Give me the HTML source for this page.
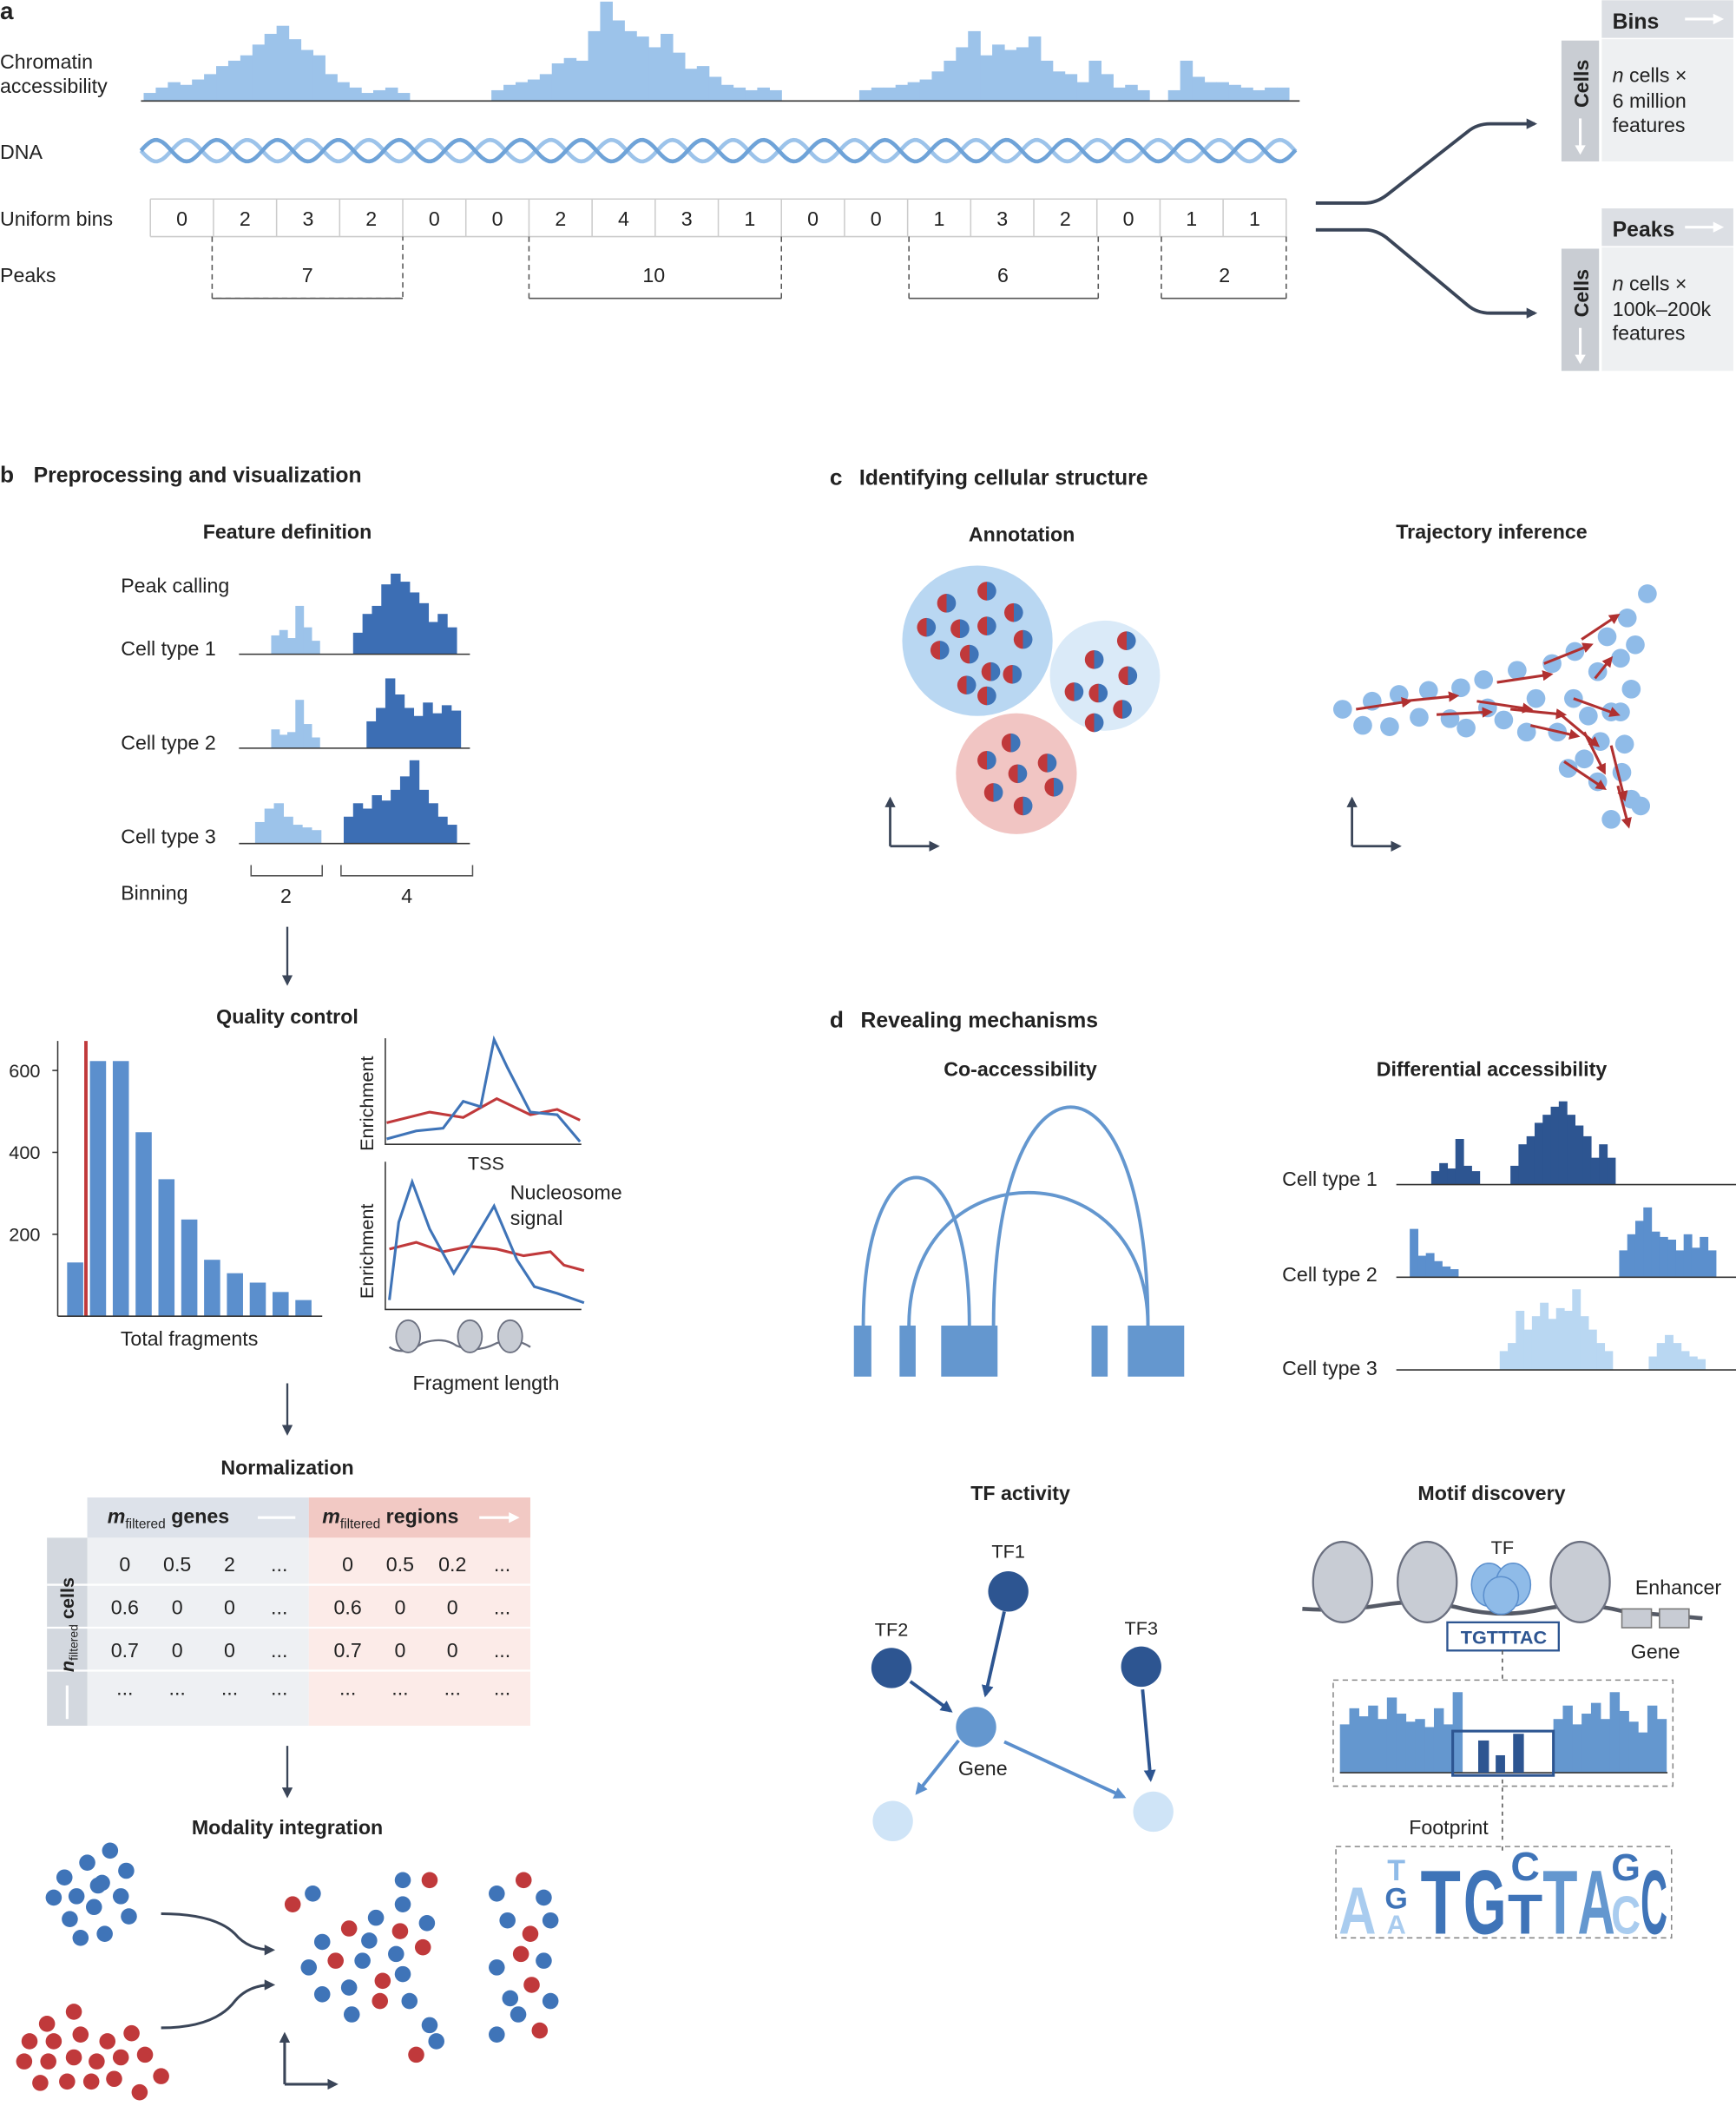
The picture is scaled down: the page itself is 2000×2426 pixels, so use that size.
<!DOCTYPE html>
<html><head><meta charset="utf-8"><style>
html,body{margin:0;padding:0;background:#fff}
svg{display:block}
text{font-family:"Liberation Sans",sans-serif;fill:#222}
.b{font-weight:bold}
</style></head><body>
<svg id="s" xmlns="http://www.w3.org/2000/svg" width="2000" height="2426" viewBox="0 0 1293 1568">
<rect width="1293" height="1568" fill="#fff"/>
<defs>
<marker id="ah" markerWidth="8" markerHeight="8" refX="6" refY="4" orient="auto" markerUnits="userSpaceOnUse"><path d="M0,0 L8,4 L0,8 Z" fill="#3a4558"/></marker>
<marker id="aw" markerWidth="8" markerHeight="8" refX="6" refY="4" orient="auto" markerUnits="userSpaceOnUse"><path d="M0,0 L8,4 L0,8 Z" fill="#fff"/></marker>
<marker id="ar" markerWidth="8" markerHeight="8" refX="6" refY="4" orient="auto" markerUnits="userSpaceOnUse"><path d="M0,0 L8,4 L0,8 Z" fill="#b03030"/></marker>
<marker id="ab" markerWidth="9" markerHeight="9" refX="7" refY="4.5" orient="auto" markerUnits="userSpaceOnUse"><path d="M0,0 L9,4.5 L0,9 Z" fill="#2d5591"/></marker>
<marker id="al" markerWidth="9" markerHeight="9" refX="7" refY="4.5" orient="auto" markerUnits="userSpaceOnUse"><path d="M0,0 L9,4.5 L0,9 Z" fill="#5b8fcd"/></marker>
<linearGradient id="hd" x1="0" x2="1"><stop offset="0.5" stop-color="#c0393b"/><stop offset="0.5" stop-color="#3f74b8"/></linearGradient>
</defs>

<!-- PANEL A -->
<text x="0" y="14" class="b" font-size="18">a</text>
<text x="0" y="51" font-size="15">Chromatin</text>
<text x="0" y="69" font-size="15">accessibility</text>
<g id="ahist" fill="#9cc3ea"></g>
<line x1="105" y1="75" x2="968" y2="75" stroke="#333" stroke-width="1"/>
<text x="0" y="118" font-size="15">DNA</text>
<path id="h1" fill="none" stroke="#9cc3ea" stroke-width="3"/>
<path id="h2" fill="none" stroke="#6fa3d8" stroke-width="3"/>
<text x="0" y="168" font-size="15">Uniform bins</text>
<g id="bins"></g>
<text x="0" y="210" font-size="15">Peaks</text>
<g stroke="#555" stroke-width="1" fill="none">
<path d="M158,176V222H300V176" stroke-dasharray="4,3"/><path d="M158,222H300"/>
<path d="M394,176V222M582,176V222" stroke-dasharray="4,3"/><path d="M394,222H582"/>
<path d="M677,176V222M818,176V222" stroke-dasharray="4,3"/><path d="M677,222H818"/>
<path d="M865,176V222M958,176V222" stroke-dasharray="4,3"/><path d="M865,222H958"/>
</g>
<g font-size="15" text-anchor="middle"><text x="229" y="210">7</text><text x="487" y="210">10</text><text x="747" y="210">6</text><text x="912" y="210">2</text></g>
<g fill="none" stroke="#3a4558" stroke-width="2.5">
<path d="M980,151 H1017 Q1025,151 1033,145 L1093,98 Q1100,92 1110,92 H1143" marker-end="url(#ah)"/>
<path d="M980,171 H1017 Q1025,171 1033,177 L1093,227 Q1100,233 1110,233 H1143" marker-end="url(#ah)"/>
</g>
<g>
<rect x="1193" y="0" width="98" height="28" fill="#dcdfe4"/>
<rect x="1163" y="30" width="28" height="90" fill="#c9cdd3"/>
<rect x="1193" y="29" width="98" height="91" fill="#eef0f2"/>
<text x="1201" y="21" class="b" font-size="16">Bins</text>
<path d="M1255,14H1282" stroke="#fff" stroke-width="2" marker-end="url(#aw)"/>
<text transform="translate(1183,80) rotate(-90)" class="b" font-size="15">Cells</text>
<path d="M1177,88V112" stroke="#fff" stroke-width="2"/><path d="M1173,108L1177,115L1181,108" fill="#fff"/>
<text x="1201" y="61" font-size="15"><tspan font-style="italic">n</tspan> cells ×</text>
<text x="1201" y="80" font-size="15">6 million</text>
<text x="1201" y="98" font-size="15">features</text>

<rect x="1193" y="155" width="98" height="28" fill="#dcdfe4"/>
<rect x="1163" y="185" width="28" height="91" fill="#c9cdd3"/>
<rect x="1193" y="184" width="98" height="92" fill="#eef0f2"/>
<text x="1201" y="176" class="b" font-size="16">Peaks</text>
<path d="M1255,169H1282" stroke="#fff" stroke-width="2" marker-end="url(#aw)"/>
<text transform="translate(1183,236) rotate(-90)" class="b" font-size="15">Cells</text>
<path d="M1177,244V268" stroke="#fff" stroke-width="2"/><path d="M1173,264L1177,271L1181,264" fill="#fff"/>
<text x="1201" y="216" font-size="15"><tspan font-style="italic">n</tspan> cells ×</text>
<text x="1201" y="235" font-size="15">100k–200k</text>
<text x="1201" y="253" font-size="15">features</text>
</g>

<!-- PANEL B -->
<text x="0" y="359" class="b" font-size="17">b</text>
<text x="25" y="359" class="b" font-size="16">Preprocessing and visualization</text>
<text x="214" y="401" class="b" font-size="15" text-anchor="middle">Feature definition</text>
<text x="90" y="441" font-size="15">Peak calling</text>
<text x="90" y="488" font-size="15">Cell type 1</text>
<text x="90" y="558" font-size="15">Cell type 2</text>
<text x="90" y="628" font-size="15">Cell type 3</text>
<g id="fd"></g>
<g stroke="#333" stroke-width="1"><line x1="178" y1="487" x2="350" y2="487"/><line x1="178" y1="557" x2="350" y2="557"/><line x1="178" y1="628" x2="350" y2="628"/></g>
<text x="90" y="670" font-size="15">Binning</text>
<g stroke="#555" fill="none"><path d="M187,644V652H240V644M254,644V652H352V644"/></g>
<text x="213" y="672" font-size="15" text-anchor="middle">2</text><text x="303" y="672" font-size="15" text-anchor="middle">4</text>
<g stroke="#3a4558" stroke-width="1.5" fill="none">
<path d="M214,690V732" marker-end="url(#ah)"/><path d="M214,1030V1067" marker-end="url(#ah)"/>
<path d="M214,1300V1337" marker-end="url(#ah)"/></g>
<text x="214" y="762" class="b" font-size="15" text-anchor="middle">Quality control</text>
<g id="qc" fill="#5b8fcd"></g>
<line x1="64" y1="775" x2="64" y2="980" stroke="#c0393b" stroke-width="2.5"/>
<g stroke="#333"><line x1="43" y1="775" x2="43" y2="980"/><line x1="43" y1="980" x2="240" y2="980"/>
<line x1="39" y1="797" x2="43" y2="797"/><line x1="39" y1="858" x2="43" y2="858"/><line x1="39" y1="919" x2="43" y2="919"/></g>
<g font-size="14" text-anchor="end"><text x="30" y="802">600</text><text x="30" y="863">400</text><text x="30" y="924">200</text></g>
<text x="141" y="1002" font-size="15" text-anchor="middle">Total fragments</text>
<g stroke="#333"><path d="M287,773V852H433" fill="none"/><path d="M287,865V975H433" fill="none"/></g>
<text transform="translate(278,857) rotate(-90)" font-size="14">Enrichment</text>
<text transform="translate(278,967) rotate(-90)" font-size="14">Enrichment</text>
<path d="M288,836 L320,828 L345,832 L370,818 L395,830 L415,826 L432,834" fill="none" stroke="#c0393b" stroke-width="2"/>
<path d="M288,848 L310,842 L330,840 L345,820 L358,824 L368,774 L378,795 L395,828 L415,830 L432,850" fill="none" stroke="#3f74b8" stroke-width="2"/>
<text x="362" y="871" font-size="14" text-anchor="middle">TSS</text>
<path d="M290,930 L310,925 L330,932 L350,928 L370,930 L390,935 L410,932 L420,942 L435,946" fill="none" stroke="#c0393b" stroke-width="2"/>
<path d="M290,968 L297,910 L307,880 L320,915 L338,948 L352,925 L368,898 L385,938 L398,958 L415,963 L435,970" fill="none" stroke="#3f74b8" stroke-width="2"/>
<text x="380" y="893" font-size="15">Nucleosome</text><text x="380" y="912" font-size="15">signal</text>
<path d="M290,1003 Q300,1010 315,1000 Q330,995 340,1002 Q355,1008 370,1000 Q385,996 395,1003" fill="none" stroke="#6b7080" stroke-width="1.5"/>
<g fill="#c8ccd4" stroke="#6b7080" stroke-width="1.2">
<ellipse cx="304" cy="995" rx="9" ry="12"/><ellipse cx="350" cy="995" rx="9" ry="12"/><ellipse cx="380" cy="995" rx="9" ry="12"/></g>
<text x="362" y="1035" font-size="15" text-anchor="middle">Fragment length</text>
<text x="214" y="1098" class="b" font-size="15" text-anchor="middle">Normalization</text>
<rect x="65" y="1115" width="165" height="30" fill="#dde2ea"/>
<rect x="230" y="1115" width="165" height="30" fill="#f2c9c4"/>
<rect x="65" y="1145" width="165" height="140" fill="#eef0f3"/>
<rect x="230" y="1145" width="165" height="140" fill="#fcebe8"/>
<rect x="35" y="1145" width="30" height="140" fill="#d3d8df"/>
<g stroke="#fff" stroke-width="1.5"><line x1="35" y1="1180" x2="395" y2="1180"/><line x1="35" y1="1212" x2="395" y2="1212"/><line x1="35" y1="1244" x2="395" y2="1244"/></g>
<text x="80" y="1134" class="b" font-size="15"><tspan font-style="italic">m</tspan><tspan font-size="10" dy="4" font-weight="normal">filtered</tspan><tspan dy="-4"> genes</tspan></text>
<text x="240" y="1134" class="b" font-size="15"><tspan font-style="italic">m</tspan><tspan font-size="10" dy="4" font-weight="normal">filtered</tspan><tspan dy="-4"> regions</tspan></text>
<path d="M192,1130H220M357,1130H385" stroke="#fff" stroke-width="2" marker-end="url(#aw)"/>
<text transform="translate(55,1245) rotate(-90)" class="b" font-size="14"><tspan font-style="italic">n</tspan><tspan font-size="9" dy="3" font-weight="normal">filtered</tspan><tspan dy="-3"> cells</tspan></text>
<path d="M50,1255V1280" stroke="#fff" stroke-width="2"/>
<g font-size="15" text-anchor="middle">
<text x="93" y="1170">0</text><text x="132" y="1170">0.5</text><text x="171" y="1170">2</text><text x="208" y="1170">...</text>
<text x="259" y="1170">0</text><text x="298" y="1170">0.5</text><text x="337" y="1170">0.2</text><text x="374" y="1170">...</text>
<text x="93" y="1202">0.6</text><text x="132" y="1202">0</text><text x="171" y="1202">0</text><text x="208" y="1202">...</text>
<text x="259" y="1202">0.6</text><text x="298" y="1202">0</text><text x="337" y="1202">0</text><text x="374" y="1202">...</text>
<text x="93" y="1234">0.7</text><text x="132" y="1234">0</text><text x="171" y="1234">0</text><text x="208" y="1234">...</text>
<text x="259" y="1234">0.7</text><text x="298" y="1234">0</text><text x="337" y="1234">0</text><text x="374" y="1234">...</text>
<text x="93" y="1262">...</text><text x="132" y="1262">...</text><text x="171" y="1262">...</text><text x="208" y="1262">...</text>
<text x="259" y="1262">...</text><text x="298" y="1262">...</text><text x="337" y="1262">...</text><text x="374" y="1262">...</text>
</g>
<text x="214" y="1366" class="b" font-size="15" text-anchor="middle">Modality integration</text>
<g id="mi"></g>
<g fill="none" stroke="#3a4558" stroke-width="2">
<path d="M120,1425 Q160,1425 175,1440 Q185,1452 203,1452" marker-end="url(#ah)"/>
<path d="M120,1510 Q160,1510 175,1490 Q185,1478 203,1478" marker-end="url(#ah)"/>
<path d="M212,1552V1515" marker-end="url(#ah)"/><path d="M212,1552H250" marker-end="url(#ah)"/></g>

<!-- PANEL C -->
<text x="618" y="361" class="b" font-size="17">c</text>
<text x="640" y="361" class="b" font-size="16">Identifying cellular structure</text>
<text x="761" y="403" class="b" font-size="15" text-anchor="middle">Annotation</text>
<text x="1111" y="401" class="b" font-size="15" text-anchor="middle">Trajectory inference</text>
<circle cx="728" cy="477" r="56" fill="#b9d7f2"/>
<circle cx="823" cy="503" r="41" fill="#daeaf8"/>
<circle cx="757" cy="576" r="45" fill="#f1c5c3"/>
<g id="hdots"></g>
<g fill="none" stroke="#3a4558" stroke-width="1.8">
<path d="M663,630V595" marker-end="url(#ah)"/><path d="M663,630H698" marker-end="url(#ah)"/>
<path d="M1007,630V595" marker-end="url(#ah)"/><path d="M1007,630H1042" marker-end="url(#ah)"/></g>
<g id="traj"></g>

<!-- PANEL D -->
<text x="618" y="765" class="b" font-size="17">d</text>
<text x="641" y="765" class="b" font-size="16">Revealing mechanisms</text>
<text x="760" y="801" class="b" font-size="15" text-anchor="middle">Co-accessibility</text>
<text x="1111" y="801" class="b" font-size="15" text-anchor="middle">Differential accessibility</text>
<g fill="none" stroke="#6497cf" stroke-width="2.5">
<path d="M643,987 C643,840 722,840 722,987"/>
<path d="M677,987 C677,855 855,855 855,987"/>
<path d="M740,987 C740,770 855,770 855,987"/>
</g>
<g fill="#6497cf"><rect x="636" y="987" width="13" height="38"/><rect x="670" y="987" width="12" height="38"/><rect x="701" y="987" width="42" height="38"/><rect x="813" y="987" width="12" height="38"/><rect x="840" y="987" width="42" height="38"/></g>
<text x="955" y="883" font-size="15">Cell type 1</text>
<text x="955" y="954" font-size="15">Cell type 2</text>
<text x="955" y="1024" font-size="15">Cell type 3</text>
<g id="da"></g>
<g stroke="#333"><line x1="1040" y1="882" x2="1293" y2="882"/><line x1="1040" y1="951" x2="1293" y2="951"/><line x1="1040" y1="1020" x2="1293" y2="1020"/></g>
<text x="760" y="1117" class="b" font-size="15" text-anchor="middle">TF activity</text>
<text x="1111" y="1117" class="b" font-size="15" text-anchor="middle">Motif discovery</text>
<g fill="none" stroke-width="2.5">
<path d="M748,1200 L734,1262" stroke="#2d5591" marker-end="url(#ab)"/>
<path d="M678,1252 L708,1274" stroke="#2d5591" marker-end="url(#ab)"/>
<path d="M851,1258 L857,1325" stroke="#2d5591" marker-end="url(#ab)"/>
<path d="M714,1296 L683,1335" stroke="#5b8fcd" marker-end="url(#al)"/>
<path d="M748,1297 L837,1338" stroke="#5b8fcd" marker-end="url(#al)"/>
</g>
<circle cx="751" cy="1185" r="15" fill="#2d5591"/><circle cx="664" cy="1242" r="15" fill="#2d5591"/><circle cx="850" cy="1241" r="15" fill="#2d5591"/>
<circle cx="727" cy="1286" r="15" fill="#6497cf"/>
<circle cx="665" cy="1356" r="15" fill="#cfe4f7"/><circle cx="859" cy="1349" r="15" fill="#cfe4f7"/>
<text x="751" y="1160" font-size="14" text-anchor="middle">TF1</text>
<text x="664" y="1218" font-size="14" text-anchor="middle">TF2</text>
<text x="850" y="1217" font-size="14" text-anchor="middle">TF3</text>
<text x="732" y="1322" font-size="15" text-anchor="middle">Gene</text>
<path d="M970,1198 Q1000,1200 1030,1195 Q1060,1190 1090,1198 Q1120,1205 1150,1198 Q1180,1192 1210,1200 L1268,1205" fill="none" stroke="#555a66" stroke-width="3"/>
<g fill="#c8ccd4" stroke="#6b7080" stroke-width="1.5">
<ellipse cx="1000" cy="1178" rx="22" ry="30"/><ellipse cx="1063" cy="1178" rx="22" ry="30"/><ellipse cx="1177" cy="1178" rx="22" ry="30"/></g>
<g fill="#8fbbe8" stroke="#5b8fcd"><ellipse cx="1109" cy="1180" rx="13" ry="16"/><ellipse cx="1127" cy="1180" rx="13" ry="16"/><ellipse cx="1118" cy="1188" rx="13" ry="14"/></g>
<text x="1119" y="1157" font-size="14" text-anchor="middle">TF</text>
<rect x="1078" y="1208" width="83" height="21" fill="#fff" stroke="#2d5591" stroke-width="1.5"/>
<text x="1120" y="1224" font-size="14" class="b" text-anchor="middle" style="fill:#2d5591">TGTTTAC</text>
<rect x="1208" y="1198" width="22" height="14" fill="#c8ccd4" stroke="#777"/><rect x="1236" y="1198" width="22" height="14" fill="#c8ccd4" stroke="#777"/>
<text x="1250" y="1187" font-size="15" text-anchor="middle">Enhancer</text>
<text x="1233" y="1235" font-size="15" text-anchor="middle">Gene</text>
<path d="M1119,1229V1250M1119,1325V1370M1119,1375V1380" stroke="#555" stroke-dasharray="3,3"/>
<rect x="993" y="1251" width="253" height="79" fill="none" stroke="#888" stroke-dasharray="4,3"/>
<g id="fp" fill="#6497cf"></g>
<line x1="998" y1="1320" x2="1242" y2="1320" stroke="#333"/>
<rect x="1082" y="1289" width="75" height="33" fill="none" stroke="#2d5591" stroke-width="2"/>
<rect x="1101" y="1296" width="8" height="24" fill="#2d5591"/><rect x="1114" y="1307" width="7" height="13" fill="#2d5591"/><rect x="1127" y="1291" width="8" height="29" fill="#2d5591"/>
<text x="1079" y="1366" font-size="15" text-anchor="middle">Footprint</text>
<rect x="995" y="1375" width="250" height="68" fill="none" stroke="#888" stroke-dasharray="4,3"/>
<g font-family="Liberation Serif" font-weight="bold" text-anchor="middle">
<text x="1011" y="1440" font-size="50" textLength="28" lengthAdjust="spacingAndGlyphs" style="fill:#a9ccef">A</text>
<text x="1040" y="1400" font-size="22" style="fill:#8fbbe8">T</text>
<text x="1040" y="1421" font-size="22" style="fill:#3f74b8">G</text>
<text x="1040" y="1440" font-size="20" style="fill:#a9ccef">A</text>
<text x="1073" y="1440" font-size="68" textLength="30" lengthAdjust="spacingAndGlyphs" style="fill:#3f74b8">T</text>
<text x="1106" y="1440" font-size="68" textLength="32" lengthAdjust="spacingAndGlyphs" style="fill:#3f74b8">G</text>
<text x="1136" y="1400" font-size="30" style="fill:#3f74b8">C</text>
<text x="1136" y="1440" font-size="42" textLength="26" lengthAdjust="spacingAndGlyphs" style="fill:#3f74b8">T</text>
<text x="1162" y="1440" font-size="68" textLength="26" lengthAdjust="spacingAndGlyphs" style="fill:#6497cf">T</text>
<text x="1189" y="1440" font-size="68" textLength="28" lengthAdjust="spacingAndGlyphs" style="fill:#6497cf">A</text>
<text x="1211" y="1400" font-size="28" style="fill:#3f74b8">G</text>
<text x="1211" y="1440" font-size="40" textLength="22" lengthAdjust="spacingAndGlyphs" style="fill:#a9ccef">C</text>
<text x="1232" y="1440" font-size="68" textLength="20" lengthAdjust="spacingAndGlyphs" style="fill:#3f74b8">C</text>
</g>
</svg>
<script>
var NS="http://www.w3.org/2000/svg";
function R(g,x,y,w,h,f){var r=document.createElementNS(NS,"rect");r.setAttribute("x",x);r.setAttribute("y",y);r.setAttribute("width",w);r.setAttribute("height",h);if(f)r.setAttribute("fill",f.trim());document.getElementById(g).appendChild(r);}
function C(g,x,y,r,f){var c=document.createElementNS(NS,"circle");c.setAttribute("cx",x);c.setAttribute("cy",y);c.setAttribute("r",r);c.setAttribute("fill",f);document.getElementById(g).appendChild(c);}
function hist(g,x0,base,w,hs,f){hs.forEach(function(h,i){R(g,x0+i*w,base-h,w+0.4,h,f);});}
hist("ahist",107,75,9,[6,10,14,12,16,20,26,30,34,42,50,56,46,38,34,20,14,10,6,8,10,6],"#9cc3ea");
hist("ahist",366,75,9,[8,12,14,16,20,28,32,30,52,74,60,52,48,40,50,36,24,26,18,12,10,8,10,8],"#9cc3ea");
hist("ahist",640,75,9,[8,10,10,12,14,16,22,30,40,52,34,42,38,40,48,30,22,20,14,30,20,10,12,8],"#9cc3ea");
hist("ahist",870,75,9,[8,30,18,14,14,12,10,8,10,10],"#9cc3ea");
var d1="",d2="";for(var x=105;x<=966;x+=2){var y1=112+8*Math.sin((x-105)/7.2),y2=112-8*Math.sin((x-105)/7.2);d1+=(x==105?"M":"L")+x+","+y1.toFixed(1);d2+=(x==105?"M":"L")+x+","+y2.toFixed(1);}
document.getElementById("h1").setAttribute("d",d1);document.getElementById("h2").setAttribute("d",d2);
var vals=[0,2,3,2,0,0,2,4,3,1,0,0,1,3,2,0,1,1],bg=document.getElementById("bins");
var bw=(958-112)/18;
vals.forEach(function(v,i){var x=112+i*bw;var l=document.createElementNS(NS,"line");l.setAttribute("x1",x);l.setAttribute("x2",x);l.setAttribute("y1",148);l.setAttribute("y2",176);l.setAttribute("stroke","#ccc");bg.appendChild(l);
var t=document.createElementNS(NS,"text");t.setAttribute("x",x+bw/2);t.setAttribute("y",168);t.setAttribute("font-size","15");t.setAttribute("text-anchor","middle");t.textContent=v;bg.appendChild(t);});
var l=document.createElementNS(NS,"path");l.setAttribute("d","M958,148V176M112,148H958M112,176H958");l.setAttribute("stroke","#ccc");l.setAttribute("fill","none");bg.appendChild(l);
var L="#9cc3ea",D="#3c6eb4";
hist("fd",202,487,6,[14,18,12,36,20,10],L);hist("fd",263,487,7,[16,30,36,52,60,54,46,38,24,30,20],D);
hist("fd",202,557,6,[14,10,12,36,18,8],L);hist("fd",273,557,7,[20,30,52,40,30,24,34,26,32,28],D);
hist("fd",190,628,7,[16,26,30,20,14,12,10],L);hist("fd",256,628,7,[20,30,26,36,32,40,50,62,40,30,20,14],D);
[[50,940],[67,790],[84,790],[101,843],[118,878],[135,908],[152,938],[169,948],[186,955],[203,962],[220,968]].forEach(function(b){R("qc",b[0],b[1],12,980-b[1]);});
var B="#3f74b8",Rd="#c0393b";
[[48,1398],[65,1387],[82,1378],[40,1413],[57,1412],[76,1402],[94,1393],[52,1429],[70,1420],[90,1412],[60,1443],[78,1440],[96,1427],[73,1404]].forEach(function(p){C("mi",p[0],p[1],6,B);});
[[35,1507],[55,1498],[22,1520],[40,1520],[60,1515],[18,1535],[36,1535],[55,1532],[30,1551],[50,1550],[80,1520],[98,1514],[72,1535],[90,1532],[108,1530],[85,1548],[104,1558],[120,1546],[68,1550]].forEach(function(p){C("mi",p[0],p[1],6,Rd);});
[[218,1418],[233,1410],[300,1400],[320,1400],[300,1418],[280,1428],[260,1436],[240,1446],[275,1445],[298,1438],[318,1432],[230,1465],[250,1460],[270,1460],[295,1455],[315,1450],[240,1485],[260,1480],[285,1475],[300,1470],[262,1500],[283,1490],[305,1490],[320,1508],[310,1530],[325,1520],[370,1410],[390,1400],[405,1413],[378,1430],[395,1440],[410,1430],[370,1465],[388,1455],[405,1460],[380,1488],[396,1478],[410,1490],[386,1500],[402,1512],[370,1515]].forEach(function(p,i){C("mi",p[0],p[1],6,(i*7)%3==0?Rd:B);});
[[705,449],[735,440],[755,456],[690,467],[715,468],[735,466],[762,476],[700,484],[722,487],[738,500],[754,502],[720,510],[735,518],[839,477],[815,491],[840,503],[800,515],[818,516],[836,528],[815,538],[753,553],[735,566],[758,576],[780,568],[740,590],[762,600],[785,586]].forEach(function(p){C("hdots",p[0],p[1],7,"url(#hd)");});
var tg=document.getElementById("traj");
var pts=[[1000,528],[1015,540],[1022,522],[1035,541],[1042,517],[1057,534],[1064,514],[1080,535],[1088,512],[1092,542],[1105,506],[1108,527],[1120,536],[1130,499],[1137,545],[1144,520],[1156,494],[1160,545],[1172,520],[1173,485],[1183,533],[1190,500],[1192,552],[1197,474],[1207,490],[1215,513],[1210,554],[1168,572],[1190,582],[1208,575],[1215,595],[1222,600],[1200,610],[1227,442],[1212,460],[1218,480],[1200,530],[1207,530],[1180,565]];
pts.forEach(function(p){C("traj",p[0],p[1],7,"#8fbbe8");});
[[1010,528,1050,522],[1045,522,1085,518],[1070,532,1110,530],[1100,522,1140,528],[1125,528,1165,532],[1115,508,1155,502],[1150,494,1185,480],[1178,476,1205,458],[1188,505,1200,490],[1140,540,1175,548],[1160,530,1190,555],[1180,545,1195,575],[1200,555,1210,595],[1205,585,1213,615],[1172,520,1205,532],[1165,567,1195,587]].forEach(function(a){var p=document.createElementNS(NS,"path");p.setAttribute("d","M"+a[0]+","+a[1]+"L"+a[2]+","+a[3]);p.setAttribute("stroke","#b03030");p.setAttribute("stroke-width","2");p.setAttribute("marker-end","url(#ar)");tg.appendChild(p);});
hist("da",1066,882,6,[10,16,12,34,14,10],"#2d5591");hist("da",1125,882,6,[14,30,36,46,52,58,62,52,44,36,20,30,20],"#2d5591");
hist("da",1050,951,6,[36,16,18,12,8,6],"#5b8fcd");hist("da",1206,951,6,[20,32,42,52,34,30,28,20,32,22,30,20],"#5b8fcd");
hist("da",1117,1020,6,[14,20,44,30,40,50,38,46,44,60,40,30,20,14],"#b9d7f2");hist("da",1228,1020,6,[10,20,26,20,14,10,8],"#b9d7f2");
hist("fp",998,1320,7,[36,48,42,50,40,56,44,38,40,34,48,36,60]);hist("fp",1157,1320,7,[40,50,36,44,52,40,60,46,38,30,50,40]);
</script>
</body></html>
